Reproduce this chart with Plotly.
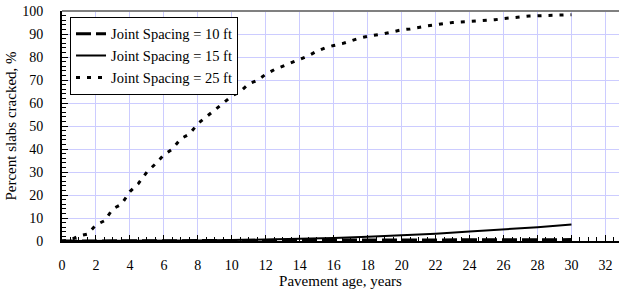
import plotly.graph_objects as go

age_25 = [0, 0.5, 1, 1.5, 2, 2.5, 3, 3.5, 4, 4.5, 5, 5.5, 6, 6.5, 7, 7.5, 8, 8.5, 9, 9.5,
          10, 10.5, 11, 11.5, 12, 12.5, 13, 13.5, 14, 14.5, 15, 15.5, 16, 16.5, 17, 17.5,
          18, 18.5, 19, 19.5, 20, 20.5, 21, 21.5, 22, 22.5, 23, 23.5, 24, 24.5, 25, 25.5,
          26, 26.5, 27, 27.5, 28, 28.5, 29, 29.5, 30]
cracked_25 = [0, 0.5, 2.2, 3, 7, 8.8, 14, 16, 21.5, 25, 30, 33.5, 37.5, 40, 44.5, 46.5, 51, 54,
              57, 60, 63, 65, 68.3, 69.8, 72.5, 74.5, 76, 77.8, 79.3, 80.5, 82.5, 84, 85, 85.8,
              87, 88.2, 89, 89.5, 90.2, 91, 91.8, 92.2, 93, 93.5, 94, 94.6, 95, 95.2, 95.4,
              95.7, 96, 96.2, 96.7, 97.1, 97.5, 97.8, 97.9, 98, 98.3, 98.3, 98.4]

age_2yr = [0, 2, 4, 6, 8, 10, 12, 14, 16, 18, 20, 22, 24, 26, 28, 30]
cracked_15 = [0, 0, 0.05, 0.1, 0.2, 0.4, 0.6, 0.9, 1.3, 1.9, 2.5, 3.2, 4.1, 5.0, 6.0, 7.2]
cracked_10 = [0, 0, 0, 0.05, 0.1, 0.15, 0.25, 0.35, 0.4, 0.45, 0.5, 0.5, 0.55, 0.55, 0.6, 0.6]

x_ticks = list(range(0, 33, 2))
y_ticks = list(range(0, 101, 10))

font = "Liberation Serif, Times New Roman, serif"

fig = go.Figure()
fig.add_trace(go.Scatter(x=age_2yr, y=cracked_10, mode="lines", name="Joint Spacing = 10 ft",
                         line=dict(color="black", width=3, dash="15px,5px")))
fig.add_trace(go.Scatter(x=age_2yr, y=cracked_15, mode="lines", name="Joint Spacing = 15 ft",
                         line=dict(color="black", width=2)))
fig.add_trace(go.Scatter(x=age_25, y=cracked_25, mode="lines", name="Joint Spacing = 25 ft",
                         line=dict(color="black", width=3, dash="4px,7px")))

fig.update_layout(
    width=619, height=295,
    margin=dict(l=62, r=0, t=11, b=54, autoexpand=False),
    paper_bgcolor="white", plot_bgcolor="white",
    font=dict(family=font, size=14, color="black"),
    showlegend=True,
    legend=dict(x=0.0144, y=0.975, xanchor="left", yanchor="top",
                bgcolor="white", bordercolor="black", borderwidth=1,
                font=dict(family=font, size=14.5, color="black"),
                tracegroupgap=0),
    xaxis=dict(range=[0, 32.8], tickmode="array", tickvals=x_ticks, automargin=False,
               showgrid=True, gridcolor="#ccccff", gridwidth=1,
               showline=True, linecolor="black", linewidth=2,
               ticks="inside", ticklen=6, tickcolor="black", tickwidth=1,
               minor=dict(dtick=0.5, ticks="inside", ticklen=4, tickcolor="black", showgrid=False),
               zeroline=False, ticklabelstandoff=10,
               tickfont=dict(size=14),
               title=dict(text="Pavement age, years", font=dict(size=15), standoff=4)),
    yaxis=dict(range=[0, 100], tickmode="array", tickvals=y_ticks, automargin=False,
               showgrid=True, gridcolor="#ccccff", gridwidth=1,
               showline=True, linecolor="black", linewidth=2,
               ticks="inside", ticklen=6, tickcolor="black", tickwidth=1,
               minor=dict(dtick=2, ticks="inside", ticklen=4, tickcolor="black", showgrid=False),
               zeroline=False, ticklabelstandoff=14,
               tickfont=dict(size=14),
               title=dict(text="Percent slabs cracked, %", font=dict(size=15), standoff=2)),
)
fig.add_shape(type="line", xref="paper", yref="paper", x0=0, x1=1, y0=1, y1=1,
              line=dict(color="#808080", width=2))

fig.write_html("out.html", config={"displayModeBar": False},
               post_script="document.body.style.margin='0';document.body.style.overflow='hidden';")
